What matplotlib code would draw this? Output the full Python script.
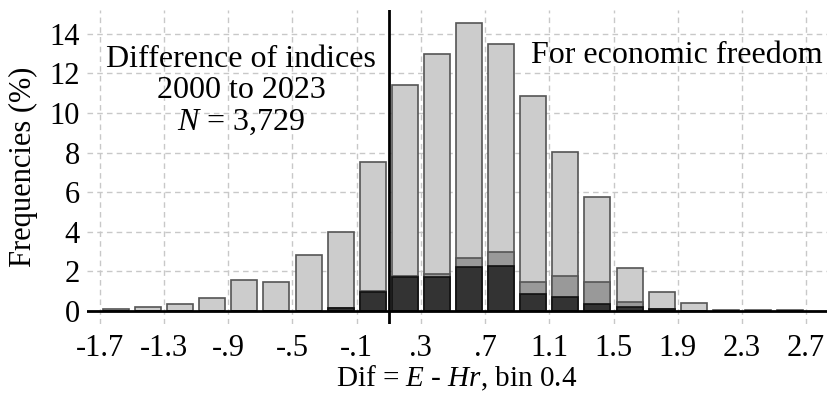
import matplotlib
matplotlib.use("Agg")
import matplotlib.pyplot as plt

plt.rcParams['font.family'] = ['Liberation Serif', 'DejaVu Serif']
plt.rcParams['mathtext.fontset'] = 'custom'
plt.rcParams['mathtext.rm'] = 'Liberation Serif'
plt.rcParams['mathtext.it'] = 'Liberation Serif:italic'

# bin centres of the histogram
centers = [-1.6, -1.4, -1.2, -1.0, -0.8, -0.6, -0.4, -0.2, 0.0, 0.2, 0.4,
           0.6, 0.8, 1.0, 1.2, 1.4, 1.6, 1.8, 2.0, 2.2, 2.4, 2.6]
# frequencies (%) - total, middle layer, dark layer
freq_total = [0.12, 0.20, 0.37, 0.66, 1.55, 1.48, 2.82, 4.00, 7.51, 11.43, 13.00,
              14.56, 13.50, 10.88, 8.02, 5.78, 2.15, 0.96, 0.42, 0.05, 0.03, 0.05]
freq_mid = [0, 0, 0, 0, 0, 0, 0, 0.15, 1.03, 1.76, 1.89,
            2.69, 2.96, 1.48, 1.75, 1.48, 0.45, 0.09, 0, 0, 0, 0]
freq_dark = [0, 0, 0, 0, 0, 0, 0, 0.15, 0.96, 1.73, 1.73,
             2.25, 2.27, 0.84, 0.71, 0.34, 0.20, 0.09, 0, 0, 0, 0]

xticks = [-1.7, -1.3, -0.9, -0.5, -0.1, 0.3, 0.7, 1.1, 1.5, 1.9, 2.3, 2.7]
xtick_labels = ["-1.7", "-1.3", "-.9", "-.5", "-.1", ".3", ".7", "1.1", "1.5", "1.9", "2.3", "2.7"]
yticks = [0, 2, 4, 6, 8, 10, 12, 14]

fig = plt.figure(figsize=(8.27, 3.98), dpi=100)
ax = fig.add_axes([0.105, 0.186, 0.895, 0.789])

# -----------------------------
# Bars
# -----------------------------
w = 0.162
ax.bar(centers, freq_total, width=w, color='#cccccc', edgecolor='#555555', linewidth=1.2, zorder=3)
ax.bar(centers, freq_mid, width=w, color='#999999', edgecolor='#555555', linewidth=1.2, zorder=4)
ax.bar(centers, freq_dark, width=w, color='#333333', edgecolor='#111111', linewidth=1.2, zorder=5)

ax.axhline(0, color='black', linewidth=2, zorder=6)
ax.axvline(0.1, color='black', linewidth=2, zorder=6)

# -----------------------------
# Axes
# -----------------------------
ax.set_xlim(-1.781, 2.83)
ax.set_ylim(-0.65, 15.2)
ax.set_xticks(xticks)
ax.set_xticklabels(xtick_labels)
ax.set_yticks(yticks)
ax.tick_params(axis='both', length=0, labelsize=22)
ax.tick_params(axis='x', pad=7)
ax.tick_params(axis='y', pad=5)
for s in ax.spines.values():
    s.set_visible(False)
ax.grid(True, linestyle=(0, (4, 3)), color='#c8c8c8', linewidth=1, zorder=0)
ax.set_axisbelow(True)

ax.set_ylabel("Frequencies (%)", fontsize=22, labelpad=8)
ax.set_xlabel("Dif = $E$ - $Hr$, bin 0.4", fontsize=21, labelpad=1)

ax.text(-0.82, 11.1, "Difference of indices\n2000 to 2023\n$N$ = 3,729", fontsize=23,
        ha='center', va='center', linespacing=1.1, zorder=7)
ax.text(2.80, 12.9, "For economic freedom", fontsize=23, ha='right', va='center', zorder=7)

fig.savefig("out.png", dpi=100)
